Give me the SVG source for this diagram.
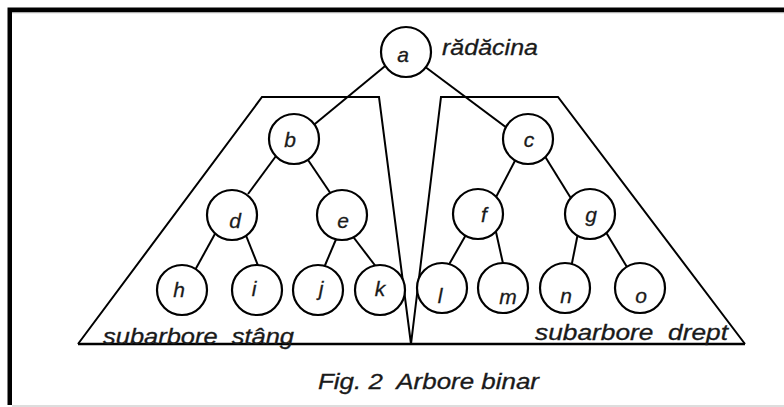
<svg xmlns="http://www.w3.org/2000/svg" width="784" height="407" viewBox="0 0 784 407">
<style>
.frame{fill:none;stroke:#000;stroke-width:4.5}
.shape{fill:none;stroke:#000;stroke-width:2;stroke-linejoin:miter}
.edge{stroke:#000;stroke-width:2;fill:none}
.node circle{fill:#fff;stroke:#000;stroke-width:2.2}
.lbl{font-family:"Liberation Sans",Arial,sans-serif;font-style:italic;font-size:21px;fill:#1a1a1a;stroke:#1a1a1a;stroke-width:0.3;text-anchor:middle}
.txt{font-family:"Liberation Sans",Arial,sans-serif;font-style:italic;font-size:22px;fill:#1a1a1a;stroke:#1a1a1a;stroke-width:0.3}
</style>
<rect width="784" height="407" fill="#fff"/>
<path class="frame" d="M9.75 405 V9.75 H784"/>
<line x1="12" y1="12.7" x2="784" y2="12.7" stroke="#999" stroke-width="1"/>
<line x1="12" y1="406" x2="784" y2="406" stroke="#bbb" stroke-width="1.2"/>

<g id="subtrees">
<polyline class="shape" points="78,344 262,97 379,97 411,344"/>
<polyline class="shape" points="411,344 441,97 558,97 745,344"/>
<line x1="78" y1="344" x2="745" y2="344" stroke="#000" stroke-width="2.5"/>
</g>

<g id="connectors">
<line class="edge" x1="390" y1="62" x2="310" y2="128"/>
<line class="edge" x1="420" y1="63" x2="511" y2="131"/>
<line class="edge" x1="276" y1="156" x2="248" y2="194"/>
<line class="edge" x1="304" y1="154" x2="333" y2="197"/>
<line class="edge" x1="518" y1="155" x2="495" y2="199"/>
<line class="edge" x1="541" y1="150" x2="572" y2="200"/>
<line class="edge" x1="216" y1="232" x2="194" y2="272"/>
<line class="edge" x1="243" y1="228" x2="259" y2="268"/>
<line class="edge" x1="337" y1="237" x2="323" y2="270"/>
<line class="edge" x1="351" y1="234" x2="377" y2="268"/>
<line class="edge" x1="467" y1="233" x2="447" y2="268"/>
<line class="edge" x1="496" y1="232" x2="504" y2="268"/>
<line class="edge" x1="578" y1="233" x2="571" y2="268"/>
<line class="edge" x1="604" y1="229" x2="630" y2="272"/>
</g>

<g id="node-a" class="node"><circle cx="406" cy="52" r="25"/><text class="lbl" x="403" y="62">a</text></g>
<g id="node-b" class="node"><circle cx="294" cy="139" r="25"/><text class="lbl" x="290" y="147">b</text></g>
<g id="node-c" class="node"><circle cx="528" cy="139" r="25"/><text class="lbl" x="529" y="147">c</text></g>
<g id="node-d" class="node"><circle cx="232" cy="215" r="25"/><text class="lbl" x="235" y="228">d</text></g>
<g id="node-e" class="node"><circle cx="342" cy="215" r="25"/><text class="lbl" x="343" y="228">e</text></g>
<g id="node-f" class="node"><circle cx="478" cy="214" r="25"/><text class="lbl" x="484" y="222">f</text></g>
<g id="node-g" class="node"><circle cx="590" cy="214" r="25"/><text class="lbl" x="591" y="222">g</text></g>
<g id="node-h" class="node"><circle cx="182" cy="290" r="25"/><text class="lbl" x="179" y="297">h</text></g>
<g id="node-i" class="node"><circle cx="257" cy="290" r="25"/><text class="lbl" x="254" y="296">i</text></g>
<g id="node-j" class="node"><circle cx="318" cy="290" r="25"/><text class="lbl" x="321" y="296">j</text></g>
<g id="node-k" class="node"><circle cx="380" cy="290" r="25"/><text class="lbl" x="380" y="296">k</text></g>
<g id="node-l" class="node"><circle cx="442" cy="288" r="25"/><text class="lbl" x="440" y="303">l</text></g>
<g id="node-m" class="node"><circle cx="503" cy="288" r="25"/><text class="lbl" x="508" y="304">m</text></g>
<g id="node-n" class="node"><circle cx="565" cy="288" r="25"/><text class="lbl" x="566" y="303">n</text></g>
<g id="node-o" class="node"><circle cx="640" cy="288" r="25"/><text class="lbl" x="641" y="303">o</text></g>

<g id="labels">
<text class="txt" x="442" y="55" textLength="96" lengthAdjust="spacingAndGlyphs">rădăcina</text>
<text class="txt" x="103" y="344" textLength="191" lengthAdjust="spacingAndGlyphs" xml:space="preserve">subarbore  stâng</text>
<text class="txt" x="535" y="340" textLength="193" lengthAdjust="spacingAndGlyphs" xml:space="preserve">subarbore  drept</text>
<text class="txt" x="318" y="389" textLength="221" lengthAdjust="spacingAndGlyphs" xml:space="preserve">Fig. 2  Arbore binar</text>
</g>
</svg>
